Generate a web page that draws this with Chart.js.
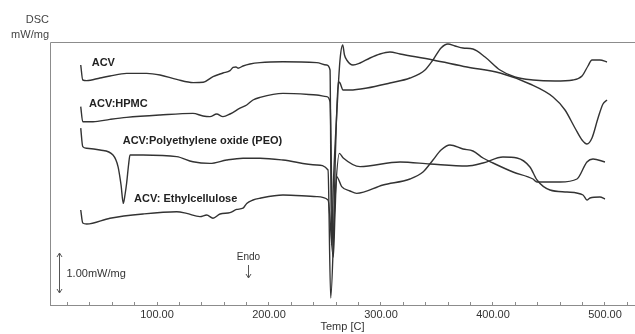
<!DOCTYPE html>
<html lang="en">
<head>
<meta charset="UTF-8">
<title>DSC thermograms</title>
<script src="https://cdn.jsdelivr.net/npm/chart.js"></script>
<style>
    body { margin: 0; background: #fff; }
    .wrap { position: relative; width: 635px; height: 334px; }
</style>
</head>
<body>
<div class="wrap"><canvas id="dsc"></canvas></div>
<script>
    // Temperature (C) and heat flow (mW/mg, arbitrary offset)
    const acvT = [31.9, 33.7, 37.2, 49.1, 58.0, 72.9, 90.8, 102.7, 117.6, 132.4, 141.3, 150.0, 158.9, 165.2, 167.9, 170.5, 172.3, 176.8, 183.0, 192.0, 212.5, 242.6, 251.5, 254.5, 255.8, 257.6, 260.7, 263.4, 265.8, 267.4, 269.4, 275.0, 281.3, 290.2, 299.1, 308.0, 317.0, 346.4, 376.8, 406.3, 433.0, 453.6, 464.3, 473.2, 479.5, 483.9, 488.4, 493.8, 498.2, 501.8];
    const acvY = [6.0, 5.625, 5.61, 5.675, 5.725, 5.79, 5.79, 5.75, 5.64, 5.56, 5.57, 5.71, 5.80, 5.86, 5.94, 5.95, 5.92, 5.975, 6.025, 6.06, 6.08, 6.06, 6.0, 5.875, 1.5, 3.125, 4.875, 6.125, 6.5, 6.25, 6.125, 6.0, 6.05, 6.175, 6.275, 6.325, 6.275, 6.125, 5.95, 5.8, 5.525, 5.2, 4.875, 4.425, 4.125, 4.025, 4.175, 4.675, 5.025, 5.125];

    const hpmcT = [31.9, 33.7, 42.9, 58.0, 72.9, 102.7, 132.1, 141.1, 147.3, 153.3, 158.9, 165.2, 174.1, 180.1, 185.7, 192.0, 212.5, 242.6, 251.5, 254.5, 257.1, 259.4, 261.9, 263.4, 266.1, 272.3, 287.5, 308.0, 325.9, 339.3, 346.4, 353.6, 359.8, 366.1, 373.2, 382.1, 392.9, 406.3, 419.6, 435.7, 455.4, 471.4, 479.5, 484.8, 488.4, 495.5, 501.8];
    const hpmcY = [4.96, 4.58, 4.58, 4.64, 4.69, 4.75, 4.79, 4.725, 4.71, 4.775, 4.71, 4.775, 4.92, 5.0, 5.125, 5.19, 5.29, 5.25, 5.21, 5.08, 1.375, 3.875, 5.58, 5.55, 5.375, 5.375, 5.425, 5.55, 5.675, 5.875, 6.125, 6.425, 6.525, 6.475, 6.425, 6.4, 6.2, 5.875, 5.7, 5.625, 5.6, 5.625, 5.725, 5.975, 6.125, 6.125, 6.075];

    const peoT = [31.9, 33.7, 37.2, 49.1, 60.7, 65.2, 67.9, 69.9, 71.4, 72.9, 74.6, 75.9, 87.5, 117.6, 132.1, 147.3, 162.2, 176.8, 192.0, 212.5, 242.6, 252.7, 255.1, 258.9, 262.8, 266.3, 281.3, 317.0, 343.8, 376.8, 391.1, 408.9, 421.4, 433.0, 439.3, 450.9, 466.1, 480.4, 483.9, 486.6, 495.5, 500.0];
    const peoY = [4.42, 3.96, 3.92, 3.875, 3.75, 3.46, 3.0, 2.54, 2.75, 3.05, 3.5, 3.75, 3.75, 3.71, 3.58, 3.54, 3.625, 3.67, 3.67, 3.625, 3.5, 3.375, 0.175, 2.625, 3.79, 3.675, 3.46, 3.575, 3.525, 3.475, 3.55, 3.7, 3.675, 3.45, 3.125, 2.875, 2.825, 2.75, 2.625, 2.675, 2.7, 2.65];

    const ecT = [31.9, 33.7, 37.2, 58.0, 87.5, 117.6, 126.5, 138.4, 144.4, 150.0, 156.3, 165.2, 171.2, 176.8, 180.1, 185.7, 192.0, 212.5, 242.6, 252.7, 257.4, 258.9, 260.4, 264.9, 272.3, 278.3, 301.8, 325.9, 337.5, 346.4, 353.6, 361.6, 373.2, 382.1, 391.1, 400.0, 417.9, 435.7, 439.3, 459.8, 475.0, 483.9, 489.3, 500.0];
    const ecY = [2.375, 2.05, 2.025, 2.17, 2.275, 2.33, 2.29, 2.21, 2.25, 2.17, 2.275, 2.31, 2.39, 2.42, 2.54, 2.625, 2.67, 2.75, 2.71, 2.625, 1.2, 2.25, 3.21, 2.96, 2.85, 2.79, 3.0, 3.15, 3.325, 3.625, 3.875, 4.0, 3.9, 3.85, 3.675, 3.55, 3.325, 3.15, 3.075, 3.075, 3.15, 3.575, 3.65, 3.575];

    const curveNames = ['ACV', 'ACV:HPMC', 'ACV:Polyethylene oxide (PEO)', 'ACV: Ethylcellulose'];
    // where each curve name sits (temperature, heat flow)
    const nameT = [41.7, 39.3, 69.4, 79.5];
    const nameY = [6.06, 5.025, 4.11, 2.65];

    const xMin = 4.46, xMax = 526.8;
    const yMin = 0, yMax = 6.575;
    const scaleBar = 1.00; // mW/mg

    const toPoints = (xs, ys) => xs.map((x, i) => ({ x: x, y: ys[i] }));
    const FONT = "'Liberation Sans', Arial, sans-serif";
    const LINE = '#333333';
    const FRAME = '#8c8c8c';

    const arrow = (ctx, x, y, dir) => {
        ctx.beginPath();
        ctx.moveTo(x - 2.5, y - dir * 4);
        ctx.lineTo(x, y);
        ctx.lineTo(x + 2.5, y - dir * 4);
        ctx.stroke();
    };

    const extras = {
        id: 'extras',
        afterDraw(chart) {
            const { ctx, chartArea: a, scales: { x, y } } = chart;
            ctx.save();

            // frame: top and left
            ctx.strokeStyle = FRAME;
            ctx.lineWidth = 1;
            ctx.beginPath();
            ctx.moveTo(a.left + 0.5, a.bottom);
            ctx.lineTo(a.left + 0.5, a.top + 0.5);
            ctx.lineTo(a.right, a.top + 0.5);
            ctx.stroke();

            // y unit
            ctx.fillStyle = '#444';
            ctx.font = '11px ' + FONT;
            ctx.textAlign = 'right';
            ctx.textBaseline = 'middle';
            ctx.fillText('DSC', a.left - 1, 20);
            ctx.fillText('mW/mg', a.left - 1, 35);

            // curve names
            ctx.fillStyle = '#222';
            ctx.font = 'bold 11px ' + FONT;
            ctx.textAlign = 'left';
            curveNames.forEach((n, i) => {
                ctx.fillText(n, x.getPixelForValue(nameT[i]), y.getPixelForValue(nameY[i]));
            });

            // scale bar 1.00 mW/mg
            const bx = Math.round(x.getPixelForValue(12.5)) + 0.5;
            const b0 = y.getPixelForValue(0.3), b1 = y.getPixelForValue(0.3 + scaleBar);
            ctx.strokeStyle = '#555';
            ctx.beginPath();
            ctx.moveTo(bx, b0);
            ctx.lineTo(bx, b1);
            ctx.stroke();
            arrow(ctx, bx, b1, -1);
            arrow(ctx, bx, b0, 1);
            ctx.fillStyle = '#333';
            ctx.font = '11px ' + FONT;
            ctx.fillText(scaleBar.toFixed(2) + 'mW/mg', bx + 7, (b0 + b1) / 2 + 1);

            // Endo marker
            const ex = Math.round(x.getPixelForValue(181.3)) + 0.5;
            ctx.textAlign = 'center';
            ctx.font = '10px ' + FONT;
            ctx.fillText('Endo', ex, 257);
            ctx.beginPath();
            ctx.moveTo(ex, 265);
            ctx.lineTo(ex, 278);
            ctx.stroke();
            arrow(ctx, ex, 278, 1);

            ctx.restore();
        }
    };

    const series = [[acvT, acvY], [hpmcT, hpmcY], [peoT, peoY], [ecT, ecY]];

    new Chart(document.getElementById('dsc'), {
        type: 'scatter',
        data: {
            datasets: series.map((s, i) => ({
                label: curveNames[i],
                data: toPoints(s[0], s[1]),
                showLine: true,
                borderColor: LINE,
                borderWidth: 1.4,
                pointRadius: 0,
                cubicInterpolationMode: 'monotone'
            }))
        },
        options: {
            responsive: true,
            maintainAspectRatio: false,
            animation: false,
            layout: { padding: { left: 50, top: 42, right: 0, bottom: 0 } },
            plugins: { legend: { display: false }, tooltip: { enabled: false } },
            scales: {
                x: {
                    type: 'linear',
                    min: xMin,
                    max: xMax,
                    afterFit: s => { s.height = 29; },
                    border: { display: true, color: FRAME, width: 1 },
                    grid: { drawOnChartArea: false, drawTicks: true, tickLength: -3, color: FRAME },
                    ticks: {
                        stepSize: 20,
                        includeBounds: false,
                        autoSkip: false,
                        maxRotation: 0,
                        padding: 6,
                        color: '#333',
                        font: { family: FONT, size: 11 },
                        callback: v => (v % 100 === 0 ? v.toFixed(2) : '')
                    },
                    title: {
                        display: true,
                        text: 'Temp [C]',
                        color: '#333',
                        font: { family: FONT, size: 11 },
                        padding: { top: 0, bottom: 0 }
                    }
                },
                y: {
                    display: false,
                    min: yMin,
                    max: yMax
                }
            }
        },
        plugins: [extras]
    });
</script>
</body>
</html>
